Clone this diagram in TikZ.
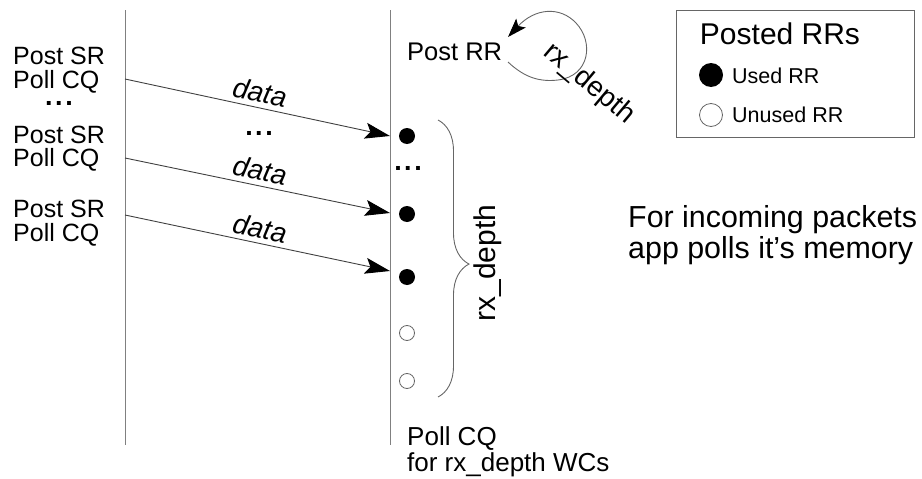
\documentclass[tikz,border=0pt]{standalone}
\usepackage{fontspec}
\setmainfont{Liberation Sans}
\usetikzlibrary{arrows.meta,decorations.pathreplacing}
\newcommand{\fsz}[1]{\fontsize{#1}{#1}\selectfont}
\newcommand{\gapdots}{.\kern2.5pt.\kern2.5pt.}
\begin{document}
\begin{tikzpicture}[x=1pt,y=-1pt,
  lbl/.style={inner sep=0pt,anchor=base west,font=\fsz{25}},
  datalbl/.style={inner sep=0pt,font=\fsz{28}\itshape,rotate=-12},
  timeline/.style={draw=black!50,line width=1pt},
  msg/.style={draw=black!75,line width=0.9pt,-{Stealth[length=25pt,width=16pt,inset=5pt,color=black]}},
  usedrr/.style={circle,fill=black,inner sep=0pt,minimum size=16pt},
  freerr/.style={circle,draw=black!60,line width=0.8pt,inner sep=0pt,minimum size=15pt},
  gap/.style={inner sep=0pt,font=\fsz{27}\bfseries}]
\useasboundingbox (0,0) rectangle (922,479);

% two timelines
\coordinate (lt) at (125,10);  \coordinate (lb) at (125,445);
\coordinate (rt) at (390,10);  \coordinate (rb) at (390,445);
\draw[timeline] (lt) -- (lb);
\draw[timeline] (rt) -- (rb);

% sender side operations
\node[lbl] (s1) at (13,64)  {Post SR};
\node[lbl] (c1) at (13,88)  {Poll CQ};
\node[gap] (g1) at (59,103) {\gapdots};
\node[lbl] (s2) at (13,143) {Post SR};
\node[lbl] (c2) at (13,166) {Poll CQ};
\node[lbl] (s3) at (13,217) {Post SR};
\node[lbl] (c3) at (13,241) {Poll CQ};

% receive requests on the receiver side
\node[usedrr] (r1) at (407,136) {};
\node[gap] (g2) at (408,168) {\gapdots};
\node[usedrr] (r2) at (407,214) {};
\node[usedrr] (r3) at (407,277) {};
\node[freerr] (r4) at (407,333) {};
\node[freerr] (r5) at (407,381) {};

% data messages
\coordinate (a1) at (125,79);  \coordinate (b1) at (390,136);
\coordinate (a2) at (125,158); \coordinate (b2) at (390,213);
\coordinate (a3) at (125,215); \coordinate (b3) at (390,271);
\draw[msg] (a1) -- (b1);
\draw[msg] (a2) -- (b2);
\draw[msg] (a3) -- (b3);
\node[datalbl] (d1) at (260,92) {data};
\node[gap] (g3) at (259,133) {\gapdots};
\node[datalbl] (d2) at (260,170) {data};
\node[datalbl] (d3) at (260,228) {data};

% posting receive requests
\node[lbl,font=\fsz{25.5}] (prr) at (407,60) {Post RR};
\coordinate (loopa) at (508,62);
\coordinate (loopb) at (508,37);
\draw[draw=black!60,line width=0.9pt,-{Stealth[length=19pt,width=13pt,inset=4pt,color=black]}]
  (loopa) .. controls (525,78) and (540,82) .. (558,80)
          .. controls (590,76) and (594,42) .. (576,23)
          .. controls (560,6) and (535,8) .. (loopb);
\node[inner sep=0pt,font=\fsz{28},rotate=-40] (loopl) at (589,84) {rx\_depth};

% brace over the receive queue
\coordinate (bt) at (438,120); \coordinate (bb) at (438,397);
\draw[draw=black!60,line width=0.9pt,decorate,decoration={brace,amplitude=31pt,aspect=0.52}] (bt) -- (bb);
\node[inner sep=0pt,anchor=base,rotate=90,font=\fsz{30}] (depth) at (495,263) {rx\_depth};

% completion polling
\node[lbl,font=\fsz{26}] (pc1) at (407,445) {Poll CQ};
\node[lbl,font=\fsz{26}] (pc2) at (407,471) {for rx\_depth WCs};

% legend
\node[draw=black!60,line width=0.9pt,minimum width=238pt,minimum height=127pt,anchor=north west,inner sep=0pt] (leg) at (676,10) {};
\node[inner sep=0pt,anchor=base,font=\fsz{30}] (legt) at (780,45) {Posted RRs};
\node[usedrr,minimum size=24pt] (lu) at (711,75) {};
\node[lbl,font=\fsz{21.5}] (lut) at (732,83) {Used RR};
\node[freerr,minimum size=23pt] (lf) at (711,115) {};
\node[lbl,font=\fsz{21.5}] (lft) at (732,122) {Unused RR};

% note
\node[lbl,font=\fsz{30.4}] (n1) at (628,227) {For incoming packets};
\node[lbl,font=\fsz{30.4}] (n2) at (628,258) {app polls it’s memory};
\end{tikzpicture}
\end{document}
